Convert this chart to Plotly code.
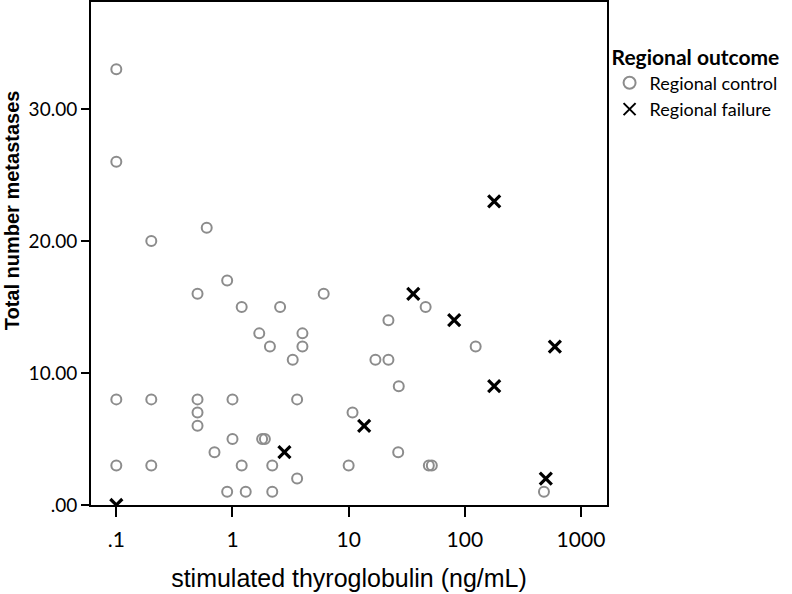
import plotly.graph_objects as go

# Regional control (grey open circles)
ctrl_tg = [0.1, 0.1, 0.2, 0.6, 0.9, 0.5, 1.2, 2.57, 1.7, 4.0, 2.1, 4.0, 3.3,
           0.1, 0.2, 0.5, 1.0, 3.6, 0.5, 0.5, 1.0, 1.8, 1.9, 0.7,
           0.1, 0.2, 1.2, 2.2, 3.6, 0.9, 1.3, 2.2,
           6.1, 46, 22, 124, 17, 22, 27, 10.8, 26.7, 10, 49, 52, 480]
ctrl_n = [33, 26, 20, 21, 17, 16, 15, 15, 13, 13, 12, 12, 11,
          8, 8, 8, 8, 8, 7, 6, 5, 5, 5, 4,
          3, 3, 3, 3, 2, 1, 1, 1,
          16, 15, 14, 12, 11, 11, 9, 7, 4, 3, 3, 3, 1]

# Regional failure (black crosses)
fail_tg = [0.1, 2.8, 13.6, 36, 81, 179, 179, 596, 498]
fail_n = [0, 4, 6, 16, 14, 9, 23, 12, 2]

x_tickvals = [0.1, 1, 10, 100, 1000]
x_ticktext = [".1", "1", "10", "100", "1000"]
y_tickvals = [0, 10, 20, 30]
y_ticktext = [".00", "10.00", "20.00", "30.00"]

fig = go.Figure()
fig.add_trace(go.Scatter(
    x=ctrl_tg, y=ctrl_n, mode="markers", name="Regional control",
    marker=dict(symbol="circle-open", size=10, color="#8c8c8c",
                line=dict(width=2, color="#8c8c8c")),
))
fig.add_trace(go.Scatter(
    x=fail_tg, y=fail_n, mode="markers", name="Regional failure",
    marker=dict(symbol="x-thin-open", size=12, color="#000000",
                line=dict(width=3.2, color="#000000")),
))

fig.add_annotation(
    text="<b>Total number metastases</b>", textangle=-90,
    xref="paper", yref="paper", x=-0.153, y=0.586,
    xanchor="center", yanchor="middle", showarrow=False,
    font=dict(family="Liberation Sans, Arial, sans-serif", size=20, color="black"),
)

fig.update_layout(
    width=792, height=594,
    margin=dict(l=91, r=185, t=2, b=89, autoexpand=False),
    paper_bgcolor="white", plot_bgcolor="white",
    showlegend=True,
    legend=dict(
        x=1.005, y=0.93, xanchor="left", yanchor="top",
        title=dict(text="<b>Regional outcome</b>",
                   font=dict(family="Lato, Liberation Sans, sans-serif", size=21, color="black")),
        font=dict(family="Lato, Liberation Sans, sans-serif", size=18, color="black"),
        tracegroupgap=0, itemsizing="constant", bgcolor="rgba(0,0,0,0)",
        itemwidth=30,
    ),
    xaxis=dict(
        type="log", range=[-1.218, 3.224], automargin=False,
        tickvals=x_tickvals, ticktext=x_ticktext,
        showgrid=False, zeroline=False,
        showline=True, linecolor="black", linewidth=2, mirror=True,
        ticks="outside", ticklen=10, tickwidth=2, tickcolor="black",
        ticklabelstandoff=5,
        tickfont=dict(family="Lato, Liberation Sans, sans-serif", size=21, color="black"),
        title=dict(text="stimulated thyroglobulin (ng/mL)",
                   font=dict(family="Liberation Sans, Arial, sans-serif", size=25, color="black"),
                   standoff=19),
    ),
    yaxis=dict(
        range=[0, 38.1], automargin=False,
        tickvals=y_tickvals, ticktext=y_ticktext,
        showgrid=False, zeroline=False,
        showline=True, linecolor="black", linewidth=2, mirror=True,
        ticks="outside", ticklen=8, tickwidth=2, tickcolor="black",
        tickfont=dict(family="Lato, Liberation Sans, sans-serif", size=19, color="black"),
    ),
)

fig.write_html("out.html", config={"displayModeBar": False},
               post_script="document.body.style.margin='0';")
